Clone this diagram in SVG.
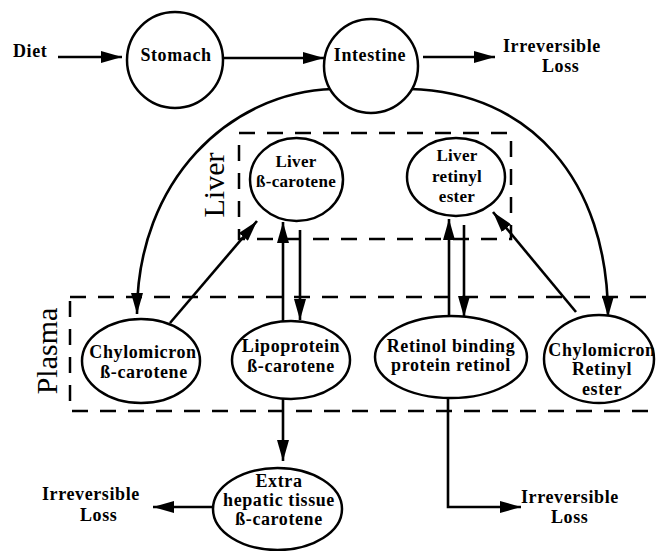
<svg xmlns="http://www.w3.org/2000/svg" width="656" height="551" viewBox="0 0 656 551">
<style>
  .node { fill: #fff; stroke: #000; stroke-width: 2.5; }
  .t { font-family: "Liberation Serif", "Times New Roman", serif; font-weight: bold; font-size: 18px; letter-spacing: 0.6px; fill: #000; text-anchor: middle; }
  .s { font-size: 17px; letter-spacing: 0.3px; }
  .lbl { font-family: "Liberation Serif", "Times New Roman", serif; font-size: 30px; fill: #000; text-anchor: middle; }
  .box { fill: none; stroke: #000; stroke-width: 2.5; stroke-dasharray: 16 12; }
  .c { fill: none; stroke: #000; stroke-width: 2.6; }
  .a { marker-end: url(#ah); }
</style>
<defs>
  <marker id="ah" markerUnits="userSpaceOnUse" markerWidth="22" markerHeight="12" refX="21" refY="6" orient="auto">
    <path d="M0,0 L21,6 L0,12 z" fill="#000"/>
  </marker>
</defs>

<g id="compartments">
  <rect class="box" x="239" y="133" width="272" height="106"/>
  <rect class="box" x="70" y="297" width="610" height="114"/>
  <text class="lbl" transform="translate(224,185) rotate(-90)">Liver</text>
  <text class="lbl" transform="translate(57,351) rotate(-90)">Plasma</text>
</g>

<g id="connectors">
  <line class="c a" x1="58" y1="57" x2="122" y2="57"/>
  <line class="c a" x1="223" y1="58" x2="324" y2="58"/>
  <line class="c a" x1="423" y1="57" x2="495" y2="57"/>
  <path class="c a" d="M333,89 C230,92 137,180 137,314"/>
  <path class="c a" d="M410,89 C530,92 608,180 608,317"/>
  <line class="c a" x1="170" y1="323" x2="257" y2="221"/>
  <line class="c a" x1="283" y1="323" x2="283" y2="222"/>
  <line class="c a" x1="300" y1="230" x2="300" y2="320"/>
  <line class="c a" x1="449" y1="317" x2="449" y2="219"/>
  <line class="c a" x1="464" y1="225" x2="464" y2="317"/>
  <line class="c a" x1="576" y1="312" x2="493" y2="212"/>
  <line class="c a" x1="283" y1="399" x2="283" y2="461"/>
  <line class="c a" x1="213" y1="507" x2="153" y2="507"/>
  <path class="c a" d="M448,398 L448,507 L521,507"/>
</g>

<g id="diet"><text class="t" x="13" y="57" style="text-anchor:start">Diet</text></g>

<g id="stomach">
  <circle class="node" cx="175" cy="60" r="48"/>
  <text class="t" x="176" y="61">Stomach</text>
</g>

<g id="intestine">
  <circle class="node" cx="371" cy="66" r="47"/>
  <text class="t" x="370" y="61">Intestine</text>
</g>

<g id="loss-top">
  <text class="t" x="503" y="52" style="text-anchor:start">Irreversible</text>
  <text class="t" x="542" y="72" style="text-anchor:start">Loss</text>
</g>

<g id="liver-bc">
  <ellipse class="node" cx="296.5" cy="179.5" rx="46.5" ry="41.5"/>
  <text class="t s" x="296" y="167">Liver</text>
  <text class="t s" x="296" y="187">ß-carotene</text>
</g>

<g id="liver-re">
  <ellipse class="node" cx="456" cy="177" rx="49" ry="39"/>
  <text class="t s" x="457" y="161">Liver</text>
  <text class="t s" x="457" y="182">retinyl</text>
  <text class="t s" x="457" y="202">ester</text>
</g>

<g id="chylo-bc">
  <ellipse class="node" cx="141" cy="361" rx="59" ry="42"/>
  <text class="t" x="143" y="358">Chylomicron</text>
  <text class="t" x="144" y="378">ß-carotene</text>
</g>

<g id="lipo-bc">
  <ellipse class="node" cx="291" cy="360" rx="59" ry="39"/>
  <text class="t" x="291" y="352">Lipoprotein</text>
  <text class="t" x="291" y="372">ß-carotene</text>
</g>

<g id="rbp">
  <ellipse class="node" cx="451" cy="357" rx="76" ry="41"/>
  <text class="t" x="451" y="352">Retinol binding</text>
  <text class="t" x="451" y="371">protein retinol</text>
</g>

<g id="chylo-re">
  <ellipse class="node" cx="599" cy="359" rx="55" ry="44"/>
  <text class="t" x="602" y="356">Chylomicron</text>
  <text class="t" x="602" y="375">Retinyl</text>
  <text class="t" x="602" y="395">ester</text>
</g>

<g id="extra">
  <ellipse class="node" cx="277.5" cy="509" rx="64.5" ry="41"/>
  <text class="t" x="279" y="487">Extra</text>
  <text class="t" x="279" y="506">hepatic tissue</text>
  <text class="t" x="279" y="525">ß-carotene</text>
</g>

<g id="loss-left">
  <text class="t" x="42" y="500" style="text-anchor:start">Irreversible</text>
  <text class="t" x="80" y="521" style="text-anchor:start">Loss</text>
</g>

<g id="loss-right">
  <text class="t" x="521" y="503" style="text-anchor:start">Irreversible</text>
  <text class="t" x="551" y="523" style="text-anchor:start">Loss</text>
</g>
</svg>
